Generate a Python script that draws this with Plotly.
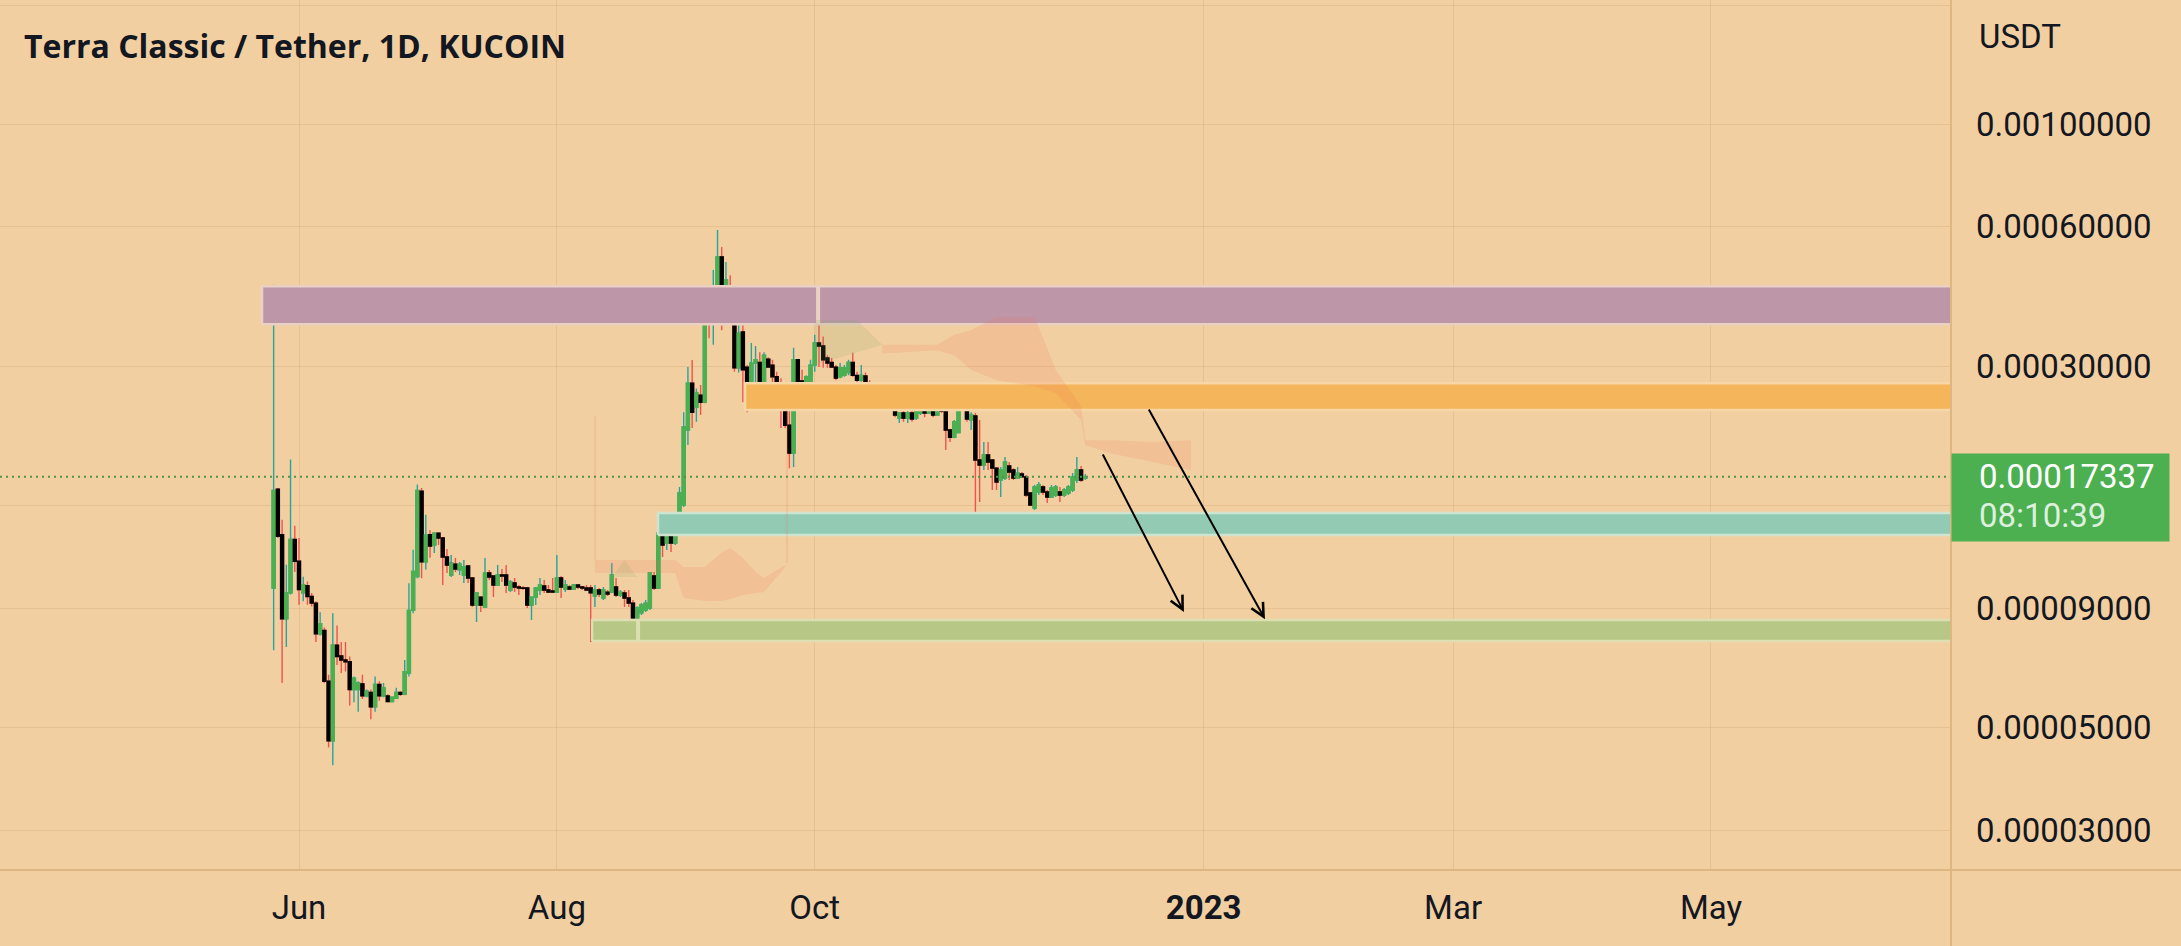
import math
import pandas as pd
import plotly.graph_objects as go

# ---------------------------------------------------------------- text
TITLE = "Terra Classic / Tether, 1D, KUCOIN"
QUOTE_CCY = "USDT"
LAST_PRICE_LABEL = "0.00017337"
BAR_COUNTDOWN = "08:10:39"

# ---------------------------------------------------------------- daily candles (USDT)
FIRST_DAY = "2022-05-26"

opens = [
    # May 26-31
    9.98e-5, 16.3e-5, 13.0e-5, 8.57e-5, 9.74e-5, 12.7e-5,
    # Jun
    11.4e-5, 9.74e-5, 10.09e-5, 9.57e-5, 9.26e-5, 7.95e-5, 8.08e-5, 6.28e-5, 4.67e-5, 7.51e-5,
    7.12e-5, 6.98e-5, 6.92e-5, 6.03e-5, 6.03e-5, 6.20e-5, 5.84e-5, 5.94e-5, 5.53e-5, 6.18e-5,
    5.84e-5, 5.84e-5, 5.68e-5, 5.77e-5, 5.94e-5, 5.89e-5, 6.54e-5, 8.93e-5, 10.56e-5, 16.15e-5,
    # Jul
    11.37e-5, 13.0e-5, 12.36e-5, 13.11e-5, 12.79e-5, 11.64e-5, 10.65e-5, 11.24e-5, 10.92e-5, 10.65e-5,
    11.13e-5, 10.49e-5, 9.17e-5, 9.54e-5, 9.08e-5, 10.75e-5, 10.59e-5, 10.13e-5, 10.65e-5, 10.65e-5,
    9.88e-5, 10.23e-5, 10.03e-5, 9.98e-5, 9.98e-5, 9.17e-5, 9.54e-5, 9.88e-5, 10.08e-5, 9.88e-5, 9.83e-5,
    # Aug
    9.78e-5, 10.49e-5, 9.93e-5, 10.03e-5, 9.93e-5, 10.13e-5, 10.03e-5, 9.98e-5, 9.98e-5, 9.59e-5,
    9.88e-5, 9.50e-5, 9.78e-5, 9.78e-5, 10.03e-5, 9.64e-5, 9.74e-5, 9.50e-5, 9.26e-5, 8.60e-5,
    8.82e-5, 8.95e-5, 9.04e-5, 10.59e-5, 9.98e-5, 13.11e-5, 12.48e-5, 13.38e-5, 12.48e-5, 12.99e-5, 15.07e-5,
    # Sep
    21.87e-5, 27.6e-5, 24.5e-5, 26.0e-5, 25.1e-5, 40.5e-5, 37.8e-5, 42.8e-5, 51.7e-5, 43.4e-5,
    43.8e-5, 43.4e-5, 29.8e-5, 35.6e-5, 29.9e-5, 25.8e-5, 30.5e-5, 30.6e-5, 27.6e-5, 31.1e-5,
    30.2e-5, 28.5e-5, 27.6e-5, 25.6e-5, 22.4e-5, 19.5e-5, 31.0e-5, 27.9e-5, 27.35e-5, 27.7e-5,
    # Oct
    30.2e-5, 33.7e-5, 33.2e-5, 31.3e-5, 30.6e-5, 29.9e-5, 28.5e-5, 28.7e-5, 29.1e-5, 30.6e-5,
    28.7e-5, 28.0e-5, 28.6e-5, 27.6e-5, 27.1e-5, 26.4e-5, 26.0e-5, 26.3e-5, 24.3e-5, 25.1e-5,
    23.2e-5, 23.8e-5, 23.2e-5, 23.8e-5, 23.2e-5, 23.8e-5, 24.3e-5, 23.8e-5, 24.3e-5, 23.56e-5, 24.9e-5,
    # Nov
    24.16e-5, 21.87e-5, 21.1e-5, 21.6e-5, 25.8e-5, 24.5e-5, 23.0e-5, 23.45e-5, 18.85e-5, 18.38e-5,
    19.32e-5, 18.85e-5, 18.1e-5, 17.07e-5, 17.24e-5, 18.29e-5, 17.93e-5, 17.24e-5, 17.58e-5, 17.33e-5,
    16.0e-5, 14.85e-5, 16.08e-5, 16.48e-5, 16.08e-5, 15.68e-5, 15.84e-5, 16.08e-5, 15.84e-5, 16.0e-5,
    # Dec 1-4
    16.24e-5, 17.07e-5, 17.93e-5, 17.24e-5,
]

highs = [
    45.0e-5, 16.4e-5, 14.0e-5, 11.2e-5, 18.9e-5, 13.6e-5,
    12.8e-5, 10.56e-5, 10.31e-5, 9.74e-5, 9.35e-5, 8.85e-5, 8.20e-5, 6.49e-5, 8.80e-5, 8.28e-5,
    7.63e-5, 7.63e-5, 7.10e-5, 6.43e-5, 6.28e-5, 6.49e-5, 6.03e-5, 6.03e-5, 6.43e-5, 6.28e-5,
    6.23e-5, 5.89e-5, 5.82e-5, 6.08e-5, 5.98e-5, 6.98e-5, 10.22e-5, 12.07e-5, 16.68e-5, 16.40e-5,
    14.36e-5, 13.3e-5, 13.17e-5, 13.17e-5, 12.85e-5, 12.12e-5, 11.76e-5, 11.58e-5, 11.36e-5, 11.47e-5,
    11.19e-5, 10.54e-5, 9.74e-5, 9.59e-5, 11.58e-5, 10.92e-5, 10.59e-5, 11.19e-5, 10.97e-5, 11.19e-5,
    10.38e-5, 10.49e-5, 10.13e-5, 10.08e-5, 10.03e-5, 9.54e-5, 10.03e-5, 10.49e-5, 10.38e-5, 10.13e-5, 10.49e-5,
    11.76e-5, 10.59e-5, 10.38e-5, 10.13e-5, 10.18e-5, 10.18e-5, 10.08e-5, 10.13e-5, 10.13e-5, 10.13e-5,
    9.98e-5, 10.03e-5, 9.88e-5, 11.30e-5, 10.49e-5, 9.88e-5, 9.88e-5, 9.88e-5, 9.40e-5, 9.12e-5,
    9.26e-5, 9.40e-5, 10.81e-5, 10.81e-5, 14.48e-5, 14.13e-5, 13.86e-5, 13.65e-5, 14.48e-5, 16.48e-5, 23.9e-5,
    29.9e-5, 30.97e-5, 26.9e-5, 27.35e-5, 42.3e-5, 44.9e-5, 48.4e-5, 59.1e-5, 54.3e-5, 50.4e-5,
    47.2e-5, 43.8e-5, 39.3e-5, 37.4e-5, 30.2e-5, 33.7e-5, 33.2e-5, 32.2e-5, 32.2e-5, 31.4e-5,
    31.0e-5, 29.2e-5, 28.3e-5, 26.9e-5, 26.7e-5, 32.9e-5, 31.0e-5, 29.5e-5, 28.7e-5, 31.0e-5,
    35.1e-5, 37.2e-5, 34.8e-5, 31.7e-5, 31.3e-5, 30.2e-5, 30.5e-5, 30.2e-5, 31.0e-5, 32.1e-5,
    29.2e-5, 30.2e-5, 29.1e-5, 28.0e-5, 27.35e-5, 26.7e-5, 27.35e-5, 27.2e-5, 25.65e-5, 25.4e-5,
    23.9e-5, 24.16e-5, 24.4e-5, 24.16e-5, 24.5e-5, 25.4e-5, 25.0e-5, 25.1e-5, 24.76e-5, 27.35e-5, 25.1e-5,
    24.4e-5, 22.0e-5, 23.0e-5, 27.35e-5, 27.7e-5, 25.65e-5, 23.9e-5, 23.8e-5, 23.0e-5, 20.6e-5,
    20.6e-5, 18.85e-5, 18.2e-5, 18.2e-5, 19.13e-5, 18.66e-5, 18.1e-5, 18.2e-5, 17.75e-5, 17.49e-5,
    16.0e-5, 16.65e-5, 16.9e-5, 16.65e-5, 16.24e-5, 16.65e-5, 16.65e-5, 16.48e-5, 16.4e-5, 16.65e-5,
    17.66e-5, 19.13e-5, 18.29e-5, 17.58e-5,
]

lows = [
    7.33e-5, 12.8e-5, 6.23e-5, 7.45e-5, 9.66e-5, 10.8e-5,
    9.18e-5, 9.35e-5, 9.18e-5, 9.10e-5, 7.63e-5, 7.88e-5, 6.23e-5, 4.52e-5, 4.14e-5, 6.81e-5,
    6.54e-5, 6.59e-5, 5.57e-5, 5.66e-5, 5.40e-5, 5.75e-5, 5.80e-5, 5.20e-5, 5.40e-5, 5.70e-5,
    5.80e-5, 5.66e-5, 5.66e-5, 5.75e-5, 5.84e-5, 5.86e-5, 6.43e-5, 8.80e-5, 10.48e-5, 10.48e-5,
    10.94e-5, 11.6e-5, 11.88e-5, 12.36e-5, 10.13e-5, 10.75e-5, 10.54e-5, 10.81e-5, 10.65e-5, 10.23e-5,
    10.23e-5, 9.08e-5, 8.43e-5, 8.86e-5, 9.08e-5, 10.38e-5, 9.54e-5, 10.13e-5, 10.28e-5, 9.74e-5,
    9.78e-5, 9.78e-5, 9.64e-5, 9.88e-5, 9.04e-5, 8.51e-5, 9.17e-5, 9.64e-5, 9.74e-5, 9.74e-5, 9.74e-5,
    9.74e-5, 9.50e-5, 9.78e-5, 9.88e-5, 9.88e-5, 9.93e-5, 9.88e-5, 9.83e-5, 7.63e-5, 9.08e-5,
    9.54e-5, 9.40e-5, 9.59e-5, 9.74e-5, 9.54e-5, 9.54e-5, 9.08e-5, 9.08e-5, 8.51e-5, 8.43e-5,
    8.73e-5, 8.86e-5, 8.95e-5, 9.88e-5, 9.93e-5, 11.64e-5, 12.06e-5, 11.94e-5, 12.36e-5, 12.99e-5, 14.92e-5,
    20.3e-5, 22.1e-5, 22.8e-5, 23.56e-5, 25.0e-5, 34.5e-5, 33.4e-5, 42.8e-5, 35.9e-5, 41.1e-5,
    39.1e-5, 29.2e-5, 29.1e-5, 25.1e-5, 23.9e-5, 25.4e-5, 27.6e-5, 26.7e-5, 26.5e-5, 29.8e-5,
    26.5e-5, 26.5e-5, 22.1e-5, 22.1e-5, 18.1e-5, 18.2e-5, 26.7e-5, 25.8e-5, 27.1e-5, 27.6e-5,
    29.2e-5, 29.9e-5, 29.8e-5, 29.8e-5, 29.8e-5, 28.0e-5, 28.3e-5, 28.5e-5, 28.7e-5, 28.5e-5,
    26.5e-5, 27.8e-5, 25.6e-5, 26.9e-5, 26.0e-5, 25.8e-5, 25.8e-5, 25.0e-5, 24.16e-5, 23.3e-5,
    22.65e-5, 22.8e-5, 22.65e-5, 22.8e-5, 23.0e-5, 23.56e-5, 23.3e-5, 23.8e-5, 23.3e-5, 23.56e-5, 23.8e-5,
    19.8e-5, 20.6e-5, 21.0e-5, 21.5e-5, 24.16e-5, 22.8e-5, 21.87e-5, 12.99e-5, 15.3e-5, 17.93e-5,
    17.93e-5, 16.24e-5, 16.24e-5, 15.68e-5, 17.07e-5, 17.07e-5, 17.07e-5, 17.24e-5, 17.24e-5, 15.68e-5,
    15.0e-5, 14.7e-5, 15.84e-5, 15.84e-5, 15.22e-5, 15.6e-5, 15.68e-5, 15.3e-5, 15.68e-5, 15.84e-5,
    16.08e-5, 16.82e-5, 16.9e-5, 17.07e-5,
]

closes = [
    16.2e-5, 12.9e-5, 8.57e-5, 9.74e-5, 12.7e-5, 11.4e-5,
    9.90e-5, 10.14e-5, 9.57e-5, 9.26e-5, 7.95e-5, 8.36e-5, 6.28e-5, 4.67e-5, 7.51e-5, 7.10e-5,
    6.98e-5, 6.92e-5, 6.03e-5, 6.38e-5, 6.23e-5, 5.84e-5, 5.98e-5, 5.53e-5, 6.18e-5, 5.84e-5,
    6.08e-5, 5.68e-5, 5.80e-5, 5.94e-5, 5.89e-5, 6.59e-5, 8.93e-5, 10.83e-5, 16.20e-5, 11.37e-5,
    12.98e-5, 12.3e-5, 13.11e-5, 12.79e-5, 11.64e-5, 11.19e-5, 11.30e-5, 10.97e-5, 11.24e-5, 11.08e-5,
    10.49e-5, 9.17e-5, 9.74e-5, 9.17e-5, 10.75e-5, 10.54e-5, 10.13e-5, 10.65e-5, 10.59e-5, 10.13e-5,
    10.28e-5, 10.03e-5, 9.98e-5, 9.96e-5, 9.17e-5, 9.54e-5, 9.98e-5, 10.13e-5, 9.88e-5, 9.78e-5, 9.78e-5,
    10.49e-5, 10.03e-5, 10.13e-5, 9.93e-5, 10.13e-5, 10.03e-5, 9.98e-5, 9.88e-5, 9.74e-5, 9.88e-5,
    9.69e-5, 9.88e-5, 9.69e-5, 10.65e-5, 9.64e-5, 9.78e-5, 9.50e-5, 9.26e-5, 8.60e-5, 9.04e-5,
    9.17e-5, 9.26e-5, 10.75e-5, 9.98e-5, 13.11e-5, 12.36e-5, 13.31e-5, 12.48e-5, 13.11e-5, 16.0e-5, 22.2e-5,
    27.6e-5, 23.9e-5, 26.3e-5, 25.1e-5, 42.1e-5, 37.8e-5, 42.8e-5, 51.7e-5, 42.8e-5, 46.1e-5,
    43.4e-5, 29.8e-5, 35.4e-5, 29.5e-5, 25.8e-5, 30.5e-5, 31.0e-5, 27.1e-5, 31.7e-5, 29.9e-5,
    28.5e-5, 27.6e-5, 25.6e-5, 22.4e-5, 19.5e-5, 31.0e-5, 27.7e-5, 27.5e-5, 28.5e-5, 30.2e-5,
    33.7e-5, 33.2e-5, 31.0e-5, 30.5e-5, 29.9e-5, 28.3e-5, 29.8e-5, 29.8e-5, 30.6e-5, 28.7e-5,
    28.0e-5, 28.7e-5, 27.6e-5, 27.1e-5, 26.3e-5, 26.3e-5, 26.8e-5, 25.1e-5, 25.4e-5, 23.56e-5,
    23.8e-5, 23.2e-5, 23.8e-5, 23.1e-5, 24.16e-5, 25.1e-5, 23.8e-5, 24.3e-5, 23.56e-5, 25.0e-5, 24.04e-5,
    21.87e-5, 21.1e-5, 22.8e-5, 26.9e-5, 24.4e-5, 23.1e-5, 23.56e-5, 18.85e-5, 18.38e-5, 19.32e-5,
    18.66e-5, 18.1e-5, 16.9e-5, 17.93e-5, 18.66e-5, 17.75e-5, 17.24e-5, 17.66e-5, 17.33e-5, 15.84e-5,
    15.07e-5, 16.48e-5, 16.65e-5, 16.08e-5, 15.68e-5, 16.4e-5, 16.48e-5, 15.84e-5, 16.24e-5, 16.48e-5,
    17.33e-5, 17.93e-5, 17.07e-5, 17.337e-5,
]

dates = pd.date_range(FIRST_DAY, periods=len(opens), freq="D")
last_close = closes[-1]

# ---------------------------------------------------------------- axes
X_RANGE = ["2022-03-22 06:30", "2023-06-26 18:45"]
Y_RANGE = [2.4597e-5, 1.8514e-3]            # bottom / top of the log price scale
x_tick_vals = ["2022-06-01", "2022-08-01", "2022-10-01", "2023-01-01", "2023-03-01", "2023-05-01"]
x_tick_text = ["Jun", "Aug", "Oct", "<b>2023</b>", "Mar", "May"]
y_tick_vals = [0.00003, 0.00005, 0.00009, 0.00015, 0.0003, 0.0006, 0.001, 0.0018]
y_tick_text = ["0.00003000", "0.00005000", "0.00009000", "", "0.00030000", "0.00060000", "0.00100000", ""]

# ---------------------------------------------------------------- drawn zones (extend right)
zone_start = ["2022-05-23 06:00", "2022-09-14 12:00", "2022-08-24 22:00", "2022-08-09 08:00"]
zone_low = [3.70e-4, 2.416e-4, 1.299e-4, 7.67e-5]
zone_high = [4.47e-4, 2.76e-4, 1.448e-4, 8.51e-5]
zone_fill = ["#BD97A8", "#F5B55B", "#93CAB3", "#B6C786"]
zone_edge = ["#EBD0C4", "#F8D7A6", "#CFE4CE", "#DDDEB2"]
ZONE_END = "2023-07-31"
divider_dates = ["2022-08-20 05:00", "2022-10-01 19:00"]
divider_zone = [3, 0]

# ---------------------------------------------------------------- ichimoku-like cloud
cloud_a_dates = ["2022-08-10", "2022-08-20", "2022-08-29", "2022-08-31", "2022-09-05", "2022-09-09",
                 "2022-09-11", "2022-09-14", "2022-09-17", "2022-09-19", "2022-09-24"]
cloud_a_upper = [11.47e-5, 11.47e-5, 11.47e-5, 11.08e-5, 11.08e-5, 11.9e-5,
                 12.17e-5, 11.58e-5, 10.81e-5, 10.49e-5, 11.19e-5]
cloud_a_lower = [10.75e-5, 10.75e-5, 10.75e-5, 9.50e-5, 9.36e-5, 9.36e-5,
                 9.45e-5, 9.64e-5, 9.74e-5, 9.78e-5, 11.08e-5]
cloud_b_dates = ["2022-10-17", "2022-10-30", "2022-11-03", "2022-11-07", "2022-11-13", "2022-11-22",
                 "2022-11-27", "2022-12-03", "2022-12-04", "2022-12-10", "2022-12-20", "2022-12-29"]
cloud_b_upper = [33.4e-5, 33.4e-5, 35.1e-5, 35.9e-5, 38.4e-5, 38.4e-5,
                 29.5e-5, 24.6e-5, 20.8e-5, 20.8e-5, 20.6e-5, 20.8e-5]
cloud_b_lower = [32.0e-5, 32.5e-5, 31.7e-5, 29.5e-5, 28.0e-5, 27.2e-5,
                 26.3e-5, 23.0e-5, 20.3e-5, 19.5e-5, 18.66e-5, 17.93e-5]
green_cloud1_dates = ["2022-08-14", "2022-08-17", "2022-08-20"]
green_cloud1_prices = [10.54e-5, 11.47e-5, 10.54e-5]
green_cloud2_dates = ["2022-10-01", "2022-10-11", "2022-10-17", "2022-10-01"]
green_cloud2_prices = [37.8e-5, 37.8e-5, 33.4e-5, 30.2e-5]
cloud_edge_dates = ["2022-08-10", "2022-09-24 10:00"]
cloud_edge_top = [23.4e-5, 24.2e-5]
cloud_edge_bottom = [11.47e-5, 11.3e-5]

# ---------------------------------------------------------------- projection arrows
arrow_tail_dates = ["2022-12-07 23:00", "2022-12-18 20:00"]
arrow_tail_prices = [1.951e-4, 2.440e-4]
arrow_head_dates = ["2022-12-27 08:00", "2023-01-15 12:00"]
arrow_head_prices = [8.86e-5, 8.55e-5]

# ---------------------------------------------------------------- style
BG = "#F2CFA0"
GRID = "rgba(190,140,80,0.22)"
AXIS_LINE = "#DDB682"
TXT = "#131722"
UP_BODY = "#4CAF50"
UP_WICK = "#26A69A"
DN_BODY = "#000000"
DN_WICK = "#EF5350"
CLOUD_RED = "rgba(235,110,80,0.15)"
CLOUD_GREEN = "rgba(120,170,100,0.15)"
PRICE_GREEN = "#4CAF50"
PRICE_LINE = "#4E944B"
TICK_FONT = dict(family="Roboto", size=33, color=TXT)

fig = go.Figure()

# zones
for i in range(len(zone_start)):
    fig.add_trace(go.Scatter(
        x=[zone_start[i], ZONE_END, ZONE_END, zone_start[i], zone_start[i]],
        y=[zone_low[i], zone_low[i], zone_high[i], zone_high[i], zone_low[i]],
        mode="lines", fill="toself", fillcolor=zone_fill[i],
        line=dict(color=zone_edge[i], width=2.5), hoverinfo="skip", showlegend=False))
for d, zi in zip(divider_dates, divider_zone):
    fig.add_trace(go.Scatter(x=[d, d], y=[zone_low[zi], zone_high[zi]], mode="lines",
                             line=dict(color=zone_edge[zi], width=4), hoverinfo="skip", showlegend=False))

# cloud
fig.add_trace(go.Scatter(x=cloud_a_dates + cloud_a_dates[::-1], y=cloud_a_upper + cloud_a_lower[::-1],
                         mode="lines", fill="toself", fillcolor=CLOUD_RED, line=dict(width=0),
                         hoverinfo="skip", showlegend=False))
fig.add_trace(go.Scatter(x=cloud_b_dates + cloud_b_dates[::-1], y=cloud_b_upper + cloud_b_lower[::-1],
                         mode="lines", fill="toself", fillcolor=CLOUD_RED, line=dict(width=0),
                         hoverinfo="skip", showlegend=False))
fig.add_trace(go.Scatter(x=green_cloud1_dates, y=green_cloud1_prices, mode="lines", fill="toself",
                         fillcolor=CLOUD_GREEN, line=dict(width=0), hoverinfo="skip", showlegend=False))
fig.add_trace(go.Scatter(x=green_cloud2_dates, y=green_cloud2_prices, mode="lines", fill="toself",
                         fillcolor=CLOUD_GREEN, line=dict(width=0), hoverinfo="skip", showlegend=False))
for d, top, bot in zip(cloud_edge_dates, cloud_edge_top, cloud_edge_bottom):
    fig.add_trace(go.Scatter(x=[d, d], y=[top, bot], mode="lines",
                             line=dict(color=CLOUD_RED, width=2), hoverinfo="skip", showlegend=False))

# last price line
fig.add_trace(go.Scatter(x=X_RANGE, y=[last_close, last_close], mode="lines",
                         line=dict(color=PRICE_LINE, width=2, dash="2px,4px"),
                         hoverinfo="skip", showlegend=False))

# candles: wicks, then solid bodies on top
fig.add_trace(go.Candlestick(
    x=dates, open=opens, high=highs, low=lows, close=closes,
    increasing=dict(line=dict(color=UP_WICK, width=1.4), fillcolor=UP_BODY),
    decreasing=dict(line=dict(color=DN_WICK, width=1.4), fillcolor=DN_BODY),
    whiskerwidth=0, hoverinfo="skip", showlegend=False))
body_top = [max(o, c) for o, c in zip(opens, closes)]
body_bot = [min(o, c) for o, c in zip(opens, closes)]
fig.add_trace(go.Candlestick(
    x=dates, open=opens, high=body_top, low=body_bot, close=closes,
    increasing=dict(line=dict(color=UP_BODY, width=1.4), fillcolor=UP_BODY),
    decreasing=dict(line=dict(color=DN_BODY, width=1.4), fillcolor=DN_BODY),
    whiskerwidth=0, hoverinfo="skip", showlegend=False))

annotations = []
for td, tp, hd, hp in zip(arrow_tail_dates, arrow_tail_prices, arrow_head_dates, arrow_head_prices):
    annotations.append(dict(x=hd, y=math.log10(hp), ax=td, ay=math.log10(tp), xref="x", yref="y",
                            axref="x", ayref="y", text="", showarrow=True, arrowhead=5,
                            arrowsize=1.3, arrowwidth=2, arrowcolor="#000000", standoff=0))

annotations += [
    dict(text=TITLE, xref="paper", yref="paper", x=0, y=1, xanchor="left", yanchor="middle",
         xshift=22, yshift=-45, showarrow=False,
         font=dict(family="Open Sans", size=32, color=TXT, weight=700)),
    dict(text=QUOTE_CCY, xref="paper", yref="paper", x=1, y=1, xanchor="left", yanchor="middle",
         xshift=26, yshift=-36, showarrow=False, font=TICK_FONT),
    dict(text="&nbsp;", xref="paper", yref="y", x=1, y=math.log10(last_close), xanchor="left",
         yanchor="top", yshift=24, width=217, height=87, bgcolor=PRICE_GREEN, borderpad=0,
         showarrow=False, font=dict(size=10)),
    dict(text=LAST_PRICE_LABEL, xref="paper", yref="y", x=1, y=math.log10(last_close),
         xanchor="left", yanchor="middle", xshift=26, showarrow=False,
         font=dict(family="Roboto", size=33, color="#FFFFFF")),
    dict(text=BAR_COUNTDOWN, xref="paper", yref="y", x=1, y=math.log10(last_close),
         xanchor="left", yanchor="middle", xshift=26, yshift=-39, showarrow=False,
         font=dict(family="Roboto", size=33, color="rgba(255,255,255,0.82)")),
]

shapes = [
    dict(type="line", xref="paper", yref="paper", x0=0, x1=2181 / 1951, y0=0, y1=0,
         line=dict(color=AXIS_LINE, width=2)),
    dict(type="line", xref="paper", yref="paper", x0=1, x1=1, y0=-76 / 870, y1=1,
         line=dict(color=AXIS_LINE, width=2)),
]

fig.update_layout(
    width=2181, height=946, margin=dict(l=0, r=230, t=0, b=76),
    paper_bgcolor=BG, plot_bgcolor=BG, showlegend=False, hovermode=False,
    boxgap=0.3, boxgroupgap=0, boxmode="overlay",
    annotations=annotations, shapes=shapes,
    xaxis=dict(type="date", range=X_RANGE, tickvals=x_tick_vals, ticktext=x_tick_text,
               showgrid=True, gridcolor=GRID, gridwidth=1, zeroline=False, showline=False,
               ticks="", tickfont=TICK_FONT, ticklabelstandoff=15,
               rangeslider=dict(visible=False), fixedrange=True),
    yaxis=dict(type="log", side="right", range=[math.log10(Y_RANGE[0]), math.log10(Y_RANGE[1])],
               tickvals=y_tick_vals, ticktext=y_tick_text, showgrid=True, gridcolor=GRID,
               gridwidth=1, zeroline=False, showline=False, ticks="", tickfont=TICK_FONT,
               ticklabelstandoff=24, fixedrange=True),
)

fig.write_html("out.html", config={"displayModeBar": False},
               post_script="document.body.style.margin='0px';")
